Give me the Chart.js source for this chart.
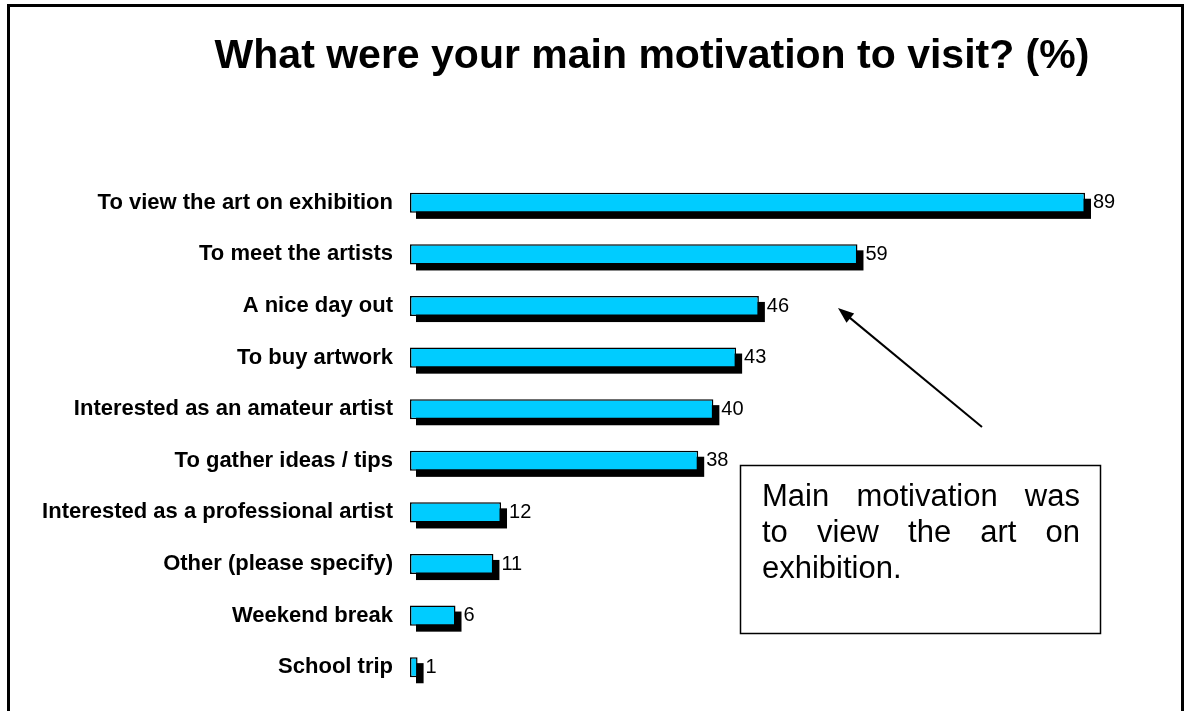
<!DOCTYPE html>
<html>
<head>
<meta charset="utf-8">
<script src="https://cdn.jsdelivr.net/npm/chart.js@4"></script>
<style>
  html, body { margin: 0; padding: 0; background: #fff; }
  #motivationChart { display: block; }
</style>
</head>
<body>
<canvas id="motivationChart" width="1184" height="711"></canvas>
<script>
const categories = [
    'To view the art on exhibition',
    'To meet the artists',
    'A nice day out',
    'To buy artwork',
    'Interested as an amateur artist',
    'To gather ideas / tips',
    'Interested as a professional artist',
    'Other (please specify)',
    'Weekend break',
    'School trip'
];
const percentages = [89, 59, 46, 43, 40, 38, 12, 11, 6, 1];

const chartTitle = 'What were your main motivation to visit? (%)';
const noteLines = [
    ['Main', 'motivation', 'was'],
    ['to', 'view', 'the', 'art', 'on'],
    ['exhibition.']
];

const FONT = '"Liberation Sans", Arial, sans-serif';

// black drop shadow behind every bar, value at the end
const barShadow = {
    id: 'barShadow',
    beforeDatasetsDraw(chart) {
        const ctx = chart.ctx;
        const meta = chart.getDatasetMeta(0);
        ctx.save();
        ctx.fillStyle = '#000';
        meta.data.forEach(bar => {
            const p = bar.getProps(['x', 'y', 'base', 'height'], true);
            ctx.fillRect(p.base + 6, p.y - p.height / 2 + 6, p.x - p.base, p.height);
        });
        ctx.restore();
    },
    afterDatasetsDraw(chart) {
        const ctx = chart.ctx;
        const meta = chart.getDatasetMeta(0);
        ctx.save();
        ctx.fillStyle = '#000';
        ctx.font = '20px ' + FONT;
        ctx.textAlign = 'left';
        ctx.textBaseline = 'middle';
        meta.data.forEach((bar, i) => {
            const p = bar.getProps(['x', 'y'], true);
            ctx.fillText(String(percentages[i]), p.x + 8, p.y);
        });
        ctx.restore();
    }
};

// frame, title, callout box and arrow
const decorations = {
    id: 'decorations',
    afterDraw(chart) {
        const ctx = chart.ctx;
        ctx.save();
        ctx.strokeStyle = '#000';
        ctx.lineWidth = 3;
        ctx.strokeRect(8.5, 5.5, 1174, 800);

        ctx.fillStyle = '#000';
        ctx.font = 'bold 41px ' + FONT;
        ctx.textAlign = 'center';
        ctx.textBaseline = 'alphabetic';
        ctx.fillText(chartTitle, 652, 68);

        // callout
        ctx.lineWidth = 1.5;
        ctx.strokeRect(740.5, 465.5, 360, 168);
        ctx.font = '31px ' + FONT;
        ctx.textAlign = 'left';
        const left = 762, right = 1080;
        noteLines.forEach((words, li) => {
            const yy = 506 + li * 36;
            if (li === noteLines.length - 1) {
                ctx.fillText(words.join(' '), left, yy);
                return;
            }
            const widths = words.map(w => ctx.measureText(w).width);
            const total = widths.reduce((a, b) => a + b, 0);
            const gap = (right - left - total) / (words.length - 1);
            let xx = left;
            words.forEach((w, wi) => {
                ctx.fillText(w, xx, yy);
                xx += widths[wi] + gap;
            });
        });

        // arrow pointing at the chart
        const x1 = 982, y1 = 427, x2 = 838, y2 = 308;
        const ang = Math.atan2(y2 - y1, x2 - x1);
        ctx.lineWidth = 2;
        ctx.beginPath();
        ctx.moveTo(x1, y1);
        ctx.lineTo(x2 - 10 * Math.cos(ang), y2 - 10 * Math.sin(ang));
        ctx.stroke();
        ctx.beginPath();
        ctx.moveTo(x2, y2);
        ctx.lineTo(x2 - 16 * Math.cos(ang) + 6 * Math.sin(ang), y2 - 16 * Math.sin(ang) - 6 * Math.cos(ang));
        ctx.lineTo(x2 - 16 * Math.cos(ang) - 6 * Math.sin(ang), y2 - 16 * Math.sin(ang) + 6 * Math.cos(ang));
        ctx.closePath();
        ctx.fill();
        ctx.restore();
    }
};

function initializeMotivationChart() {
    const ctx = document.getElementById('motivationChart').getContext('2d');
    new Chart(ctx, {
        type: 'bar',
        data: {
            labels: categories,
            datasets: [{
                data: percentages,
                backgroundColor: '#00CCFF',
                borderColor: '#000',
                borderWidth: 1.5,
                borderSkipped: false,
                barPercentage: 0.39,
                categoryPercentage: 1
            }]
        },
        options: {
            indexAxis: 'y',
            responsive: false,
            animation: false,
            layout: {
                padding: { left: 0, right: 53.5, top: 177, bottom: 18 }
            },
            plugins: {
                legend: { display: false },
                tooltip: { enabled: false }
            },
            scales: {
                x: {
                    display: false,
                    min: 0,
                    max: 95
                },
                y: {
                    grid: { display: false, drawTicks: false },
                    border: { display: false },
                    ticks: {
                        color: '#000',
                        padding: 17,
                        font: { family: FONT, size: 22, weight: 'bold' }
                    },
                    afterFit(scale) {
                        scale.width = 410;
                        scale.paddingTop = 0;
                        scale.paddingBottom = 0;
                    }
                }
            }
        },
        plugins: [barShadow, decorations]
    });
}

document.addEventListener('DOMContentLoaded', () => {
    initializeMotivationChart();
});
</script>
</body>
</html>
